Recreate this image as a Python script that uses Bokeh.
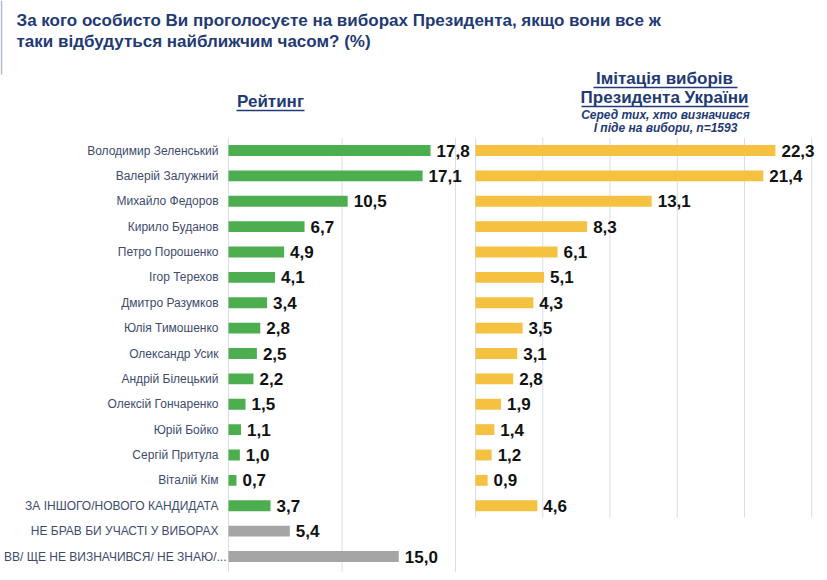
from bokeh.plotting import figure
from bokeh.models import Range1d
from bokeh.core.properties import value
from bokeh.embed import file_html
from bokeh.resources import INLINE

categories = [
    "Володимир Зеленський", "Валерій Залужний", "Михайло Федоров", "Кирило Буданов",
    "Петро Порошенко", "Ігор Терехов", "Дмитро Разумков", "Юлія Тимошенко",
    "Олександр Усик", "Андрій Білецький", "Олексій Гончаренко", "Юрій Бойко",
    "Сергій Притула", "Віталій Кім", "ЗА ІНШОГО/НОВОГО КАНДИДАТА",
    "НЕ БРАВ БИ УЧАСТІ У ВИБОРАХ", "ВВ/ ЩЕ НЕ ВИЗНАЧИВСЯ/ НЕ ЗНАЮ/...",
]
rating = [17.8, 17.1, 10.5, 6.7, 4.9, 4.1, 3.4, 2.8, 2.5, 2.2, 1.5, 1.1, 1.0, 0.7, 3.7, 5.4, 15.0]
imitation = [22.3, 21.4, 13.1, 8.3, 6.1, 5.1, 4.3, 3.5, 3.1, 2.8, 1.9, 1.4, 1.2, 0.9, 4.6]
left_ticks = [0, 10, 20]
right_ticks = [0, 5, 10, 15, 20, 25]

title_lines = ["За кого особисто Ви проголосуєте на виборах Президента, якщо вони все ж",
               "таки відбудуться найближчим часом? (%)"]
header_left = "Рейтинг"
header_right = ["Імітація виборів", "Президента України"]
header_note = ["Серед тих, хто визначився", "І піде на вибори, n=1593"]

GREEN = "#4CAE4F"
GOLD = "#F4C141"
GREY = "#A5A5A5"
NAVY = "#1F3A74"
LABEL = "#3E4B6E"
GRID = "#D9DDE8"

def fmt(v):
    return f"{v:.1f}".replace(".", ",")

# picture geometry
W, H = 819, 572
row_px = 25.375
lpx = 11.35
rpx = 13.45

def px_x(px):
    return (px - 228) / lpx

def px_y(py):
    return (py - 150) / row_px

p = figure(width=W, height=H, x_range=Range1d(px_x(0), px_x(W)), y_range=Range1d(px_y(H), px_y(0)),
           output_backend="svg", toolbar_location=None,
           min_border_left=0, min_border_right=0, min_border_top=0, min_border_bottom=0)
p.extra_x_ranges = {"r": Range1d((0 - 475) / rpx, (W - 475) / rpx)}
p.axis.visible = False
p.grid.visible = False
p.outline_line_color = None
p.background_fill_color = "white"
p.border_fill_color = "white"

rows_l = list(range(len(categories)))
rows_r = list(range(len(imitation)))

# left border rule of the slide
p.segment(x0=[px_x(1)], y0=[px_y(0)], x1=[px_x(1)], y1=[px_y(74)], line_color="#AEB8CC", line_width=1.5)

# grid lines
p.segment(x0=left_ticks, y0=[-0.5] * len(left_ticks), x1=left_ticks, y1=[16.6] * len(left_ticks),
          line_color=GRID, line_width=1)
p.segment(x0=right_ticks, y0=[-0.5] * len(right_ticks), x1=right_ticks, y1=[14.46] * len(right_ticks),
          line_color=GRID, line_width=1, x_range_name="r")

colors_l = [GREEN] * 15 + [GREY] * 2
bh = 0.43
p.hbar(y=rows_l, left=0, right=rating, height=bh, fill_color=colors_l, line_color=None)
p.hbar(y=rows_r, left=0, right=imitation, height=bh, fill_color=GOLD, line_color=None, x_range_name="r")

lab_font = value("Liberation Sans")
p.text(x=rating, y=rows_l, text=[fmt(v) for v in rating], x_offset=6, text_baseline="middle",
       text_font=lab_font, text_font_style="bold", text_font_size="17px", text_color="#111111")
p.text(x=imitation, y=rows_r, text=[fmt(v) for v in imitation], x_offset=6, text_baseline="middle",
       text_font=lab_font, text_font_style="bold", text_font_size="17px", text_color="#111111",
       x_range_name="r")

# category labels
offs = [-10] * (len(categories) - 1) + [-2]
p.text(x=[0] * len(categories), y=rows_l, text=categories, x_offset=offs, text_align="right",
       text_baseline="middle", text_font=lab_font, text_font_size="12px", text_color=LABEL)

# title
p.text(x=[px_x(16)] * 2, y=[px_y(20), px_y(41)], text=title_lines, text_baseline="middle",
       text_font=lab_font, text_font_style="bold", text_font_size="17px", text_color=NAVY)

# headers
p.text(x=[px_x(270)], y=[px_y(101)], text=[header_left], text_align="center",
       text_baseline="middle", text_font=lab_font, text_font_style="bold", text_font_size="17px",
       text_color=NAVY)
p.text(x=[px_x(664)] * 2, y=[px_y(78), px_y(97)], text=header_right,
       text_align="center", text_baseline="middle", text_font=lab_font, text_font_style="bold",
       text_font_size="17px", text_color=NAVY)
p.text(x=[px_x(665)] * 2, y=[px_y(114), px_y(127)], text=header_note,
       text_align="center", text_baseline="middle", text_font=lab_font,
       text_font_style="bold italic", text_font_size="12px", text_color=NAVY)

# underlines
ux0 = [px_x(236), px_x(593), px_x(581)]
ux1 = [px_x(304), px_x(737), px_x(748)]
uy = [px_y(110), px_y(87), px_y(106)]
p.segment(x0=ux0, y0=uy, x1=ux1, y1=uy, line_color=NAVY, line_width=1.3)

open("out.html", "w").write(file_html(p, INLINE))
